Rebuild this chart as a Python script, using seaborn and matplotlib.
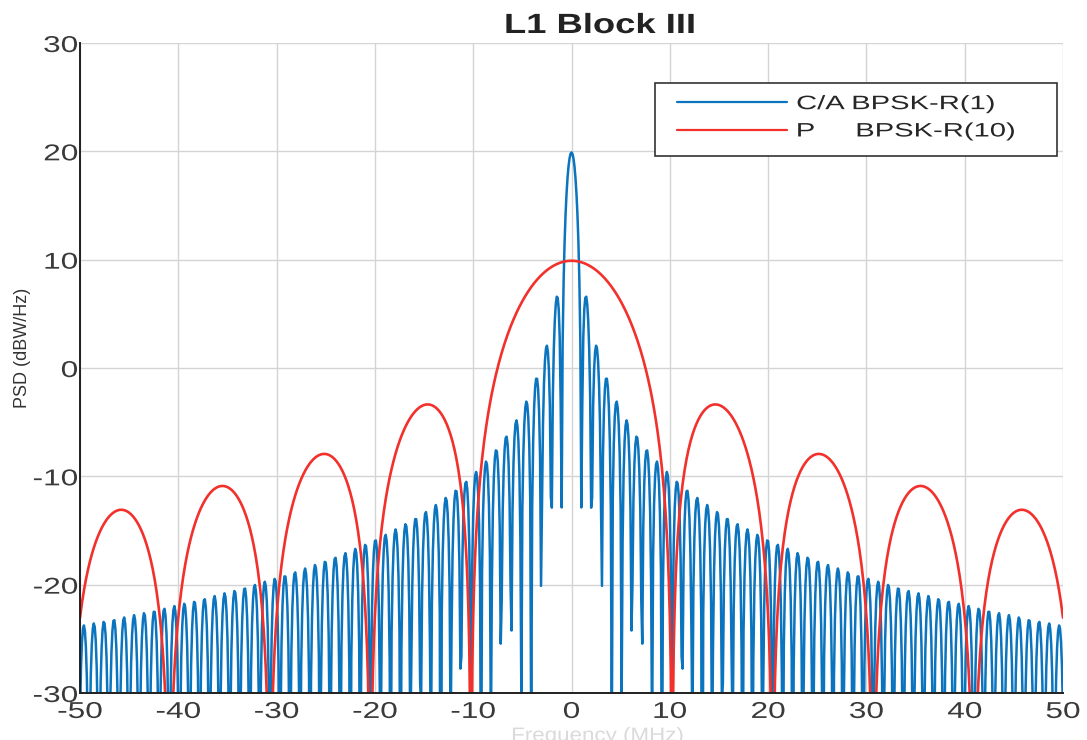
import numpy as np
import pandas as pd
import matplotlib
matplotlib.use("Agg")
import matplotlib.pyplot as plt
import seaborn as sns
from matplotlib.patheffects import AbstractPathEffect
from matplotlib.transforms import Affine2D
from matplotlib.patches import Rectangle

# GPS L1 Block III signals: BPSK-R(n) spectra, chip rate n x 1.023 MHz
signals = ["C/A BPSK-R(1)", "P     BPSK-R(10)"]
chip_rate_mhz = [1.023, 10.23]
peak_db = [19.9, 9.9]
line_colors = ["#0A74BE", "#F2302C"]
line_widths = [1.8, 1.9]

# frequency axis sampled every 0.1 MHz
freq_min_mhz, freq_max_mhz, freq_points = -50.0, 50.0, 1001
x_ticks = [-50, -40, -30, -20, -10, 0, 10, 20, 30, 40, 50]
y_ticks = [-30, -20, -10, 0, 10, 20, 30]


class HorizontalStretch(AbstractPathEffect):
    """Draw text glyphs widened horizontally about a chosen anchor."""

    def __init__(self, factor, anchor="center"):
        super().__init__()
        self.factor = factor
        self.anchor = anchor

    def draw_path(self, renderer, gc, tpath, affine, rgbFace=None):
        ext = tpath.get_extents()
        if self.anchor == "left":
            ref = ext.x0
        elif self.anchor == "right":
            ref = ext.x1
        else:
            ref = 0.5 * (ext.x0 + ext.x1)
        stretch = Affine2D().translate(-ref, 0).scale(self.factor, 1).translate(ref, 0)
        renderer.draw_path(gc, tpath, stretch + affine, rgbFace)


freq = np.linspace(freq_min_mhz, freq_max_mhz, freq_points)
frames = []
for name, rc, peak in zip(signals, chip_rate_mhz, peak_db):
    sinc2 = np.maximum(np.sinc(freq / rc) ** 2, 1e-30)
    frames.append(pd.DataFrame({"freq": freq,
                                "psd": peak + 10 * np.log10(sinc2),
                                "signal": name}))
df = pd.concat(frames, ignore_index=True)

sns.set_style("white")
plt.rcParams["font.family"] = ["Liberation Sans", "DejaVu Sans"]
plt.rcParams["axes.unicode_minus"] = False

W, H = 1087, 740
fig = plt.figure(figsize=(W / 100, H / 100), dpi=100)
ax = fig.add_axes([80 / W, 1 - 693 / H, (1063 - 80) / W, (693 - 43) / H])

sns.lineplot(data=df, x="freq", y="psd", hue="signal", hue_order=signals,
             palette=dict(zip(signals, line_colors)), estimator=None,
             ax=ax, legend=True)
for line, lw in zip(ax.lines, line_widths):
    line.set_linewidth(lw)

ax.set_xlim(freq_min_mhz, freq_max_mhz)
ax.set_ylim(-30, 30)
ax.set_xticks(x_ticks)
ax.set_yticks(y_ticks)
ax.grid(True, color="#d4d4d4", linewidth=1.0)
ax.set_axisbelow(True)
for side in ("top", "right"):
    ax.spines[side].set_visible(False)
for side in ("left", "bottom"):
    ax.spines[side].set_color("#202020")
    ax.spines[side].set_linewidth(1.4)

tick_color = "#3a3a3a"
ax.tick_params(axis="both", direction="in", length=6.5, width=1.2,
               color="#202020", labelsize=16.5, labelcolor=tick_color)
ax.tick_params(axis="x", pad=5)
ax.tick_params(axis="y", pad=1.5)
for lab in ax.get_xticklabels():
    lab.set_path_effects([HorizontalStretch(1.38, "center")])
for lab in ax.get_yticklabels():
    lab.set_path_effects([HorizontalStretch(1.38, "right")])

title = ax.set_title("L1 Block III", fontsize=20, fontweight="bold",
                     color="#222222", x=(600 - 80) / (1063 - 80),
                     y=(693 - 33) / (693 - 43), pad=0)
title.set_path_effects([HorizontalStretch(1.31, "center")])

ax.set_xlabel("Frequency (MHz)", fontsize=14, color="#dadada", va="baseline")
ax.xaxis.set_label_coords((598 - 80) / (1063 - 80), (693 - 741) / (693 - 43))
ax.xaxis.label.set_path_effects([HorizontalStretch(1.15, "center")])

ax.set_ylabel("PSD (dBW/Hz)", fontsize=13, color="#333333", va="center")
ax.yaxis.set_label_coords((23 - 80) / (1063 - 80), (693 - 348) / (693 - 43))

# legend: white framed box, entries widened like the other text
handles, labels = ax.get_legend_handles_labels()
leg = ax.legend(handles, labels, loc="center left",
                bbox_to_anchor=(677 / W, 1 - 118 / H),
                bbox_transform=fig.transFigure, frameon=False,
                borderpad=0, borderaxespad=0, handlelength=5.65,
                handletextpad=0.5, labelspacing=0.5,
                prop={"family": "Liberation Sans", "size": 14})
leg.set_zorder(6)
for txt in leg.get_texts():
    txt.set_color("#262626")
    txt.set_path_effects([HorizontalStretch(1.5, "left")])
for lh in leg.get_lines():
    lh.set_linewidth(1.6)
ax.add_patch(Rectangle((655 / W, 1 - 156 / H), (1057 - 655) / W, (156 - 83) / H,
                       transform=fig.transFigure, facecolor="white",
                       edgecolor="#333333", linewidth=1.2, zorder=5,
                       clip_on=False))

fig.savefig("out.png", dpi=100, facecolor="white")
